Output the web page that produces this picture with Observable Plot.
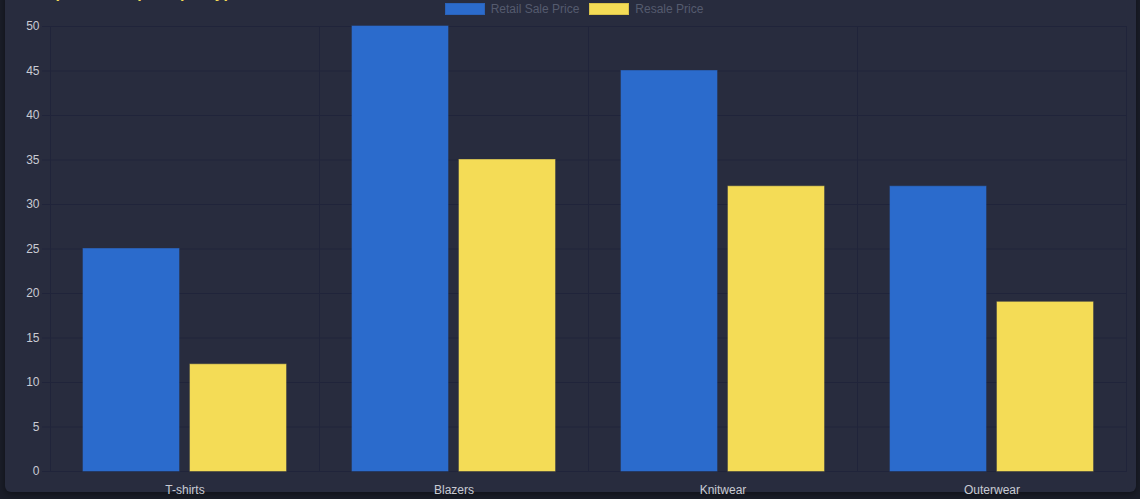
<!DOCTYPE html>
<html>
<head>
<meta charset="utf-8">
<script src="https://cdn.jsdelivr.net/npm/d3@7"></script>
<script src="https://cdn.jsdelivr.net/npm/@observablehq/plot@0.6"></script>
<style>
  html, body { margin: 0; padding: 0; width: 1140px; height: 499px; overflow: hidden; background: #1a1d28; }
  #card { position: absolute; left: 5px; top: -12px; width: 1131px; height: 504px; background: #282c3e; border-radius: 6px; box-shadow: 0 2px 6px rgba(0,0,0,0.4); }
  #title { position: absolute; left: 20px; top: -16px; line-height: 18px; font: bold 16px "Liberation Sans", Arial, sans-serif; color: #f4dc56; white-space: nowrap; }
  #legend { position: absolute; top: 3px; left: 0; width: 1148px; display: flex; justify-content: center; gap: 10px; font: 12px "Liberation Sans", Arial, sans-serif; color: #555b6e; z-index: 2; }
  .item { display: flex; align-items: center; gap: 6px; height: 12px; }
  .sw { width: 38px; height: 10px; border: 1px solid; }
  #chart { position: absolute; left: 0; top: 0; }
</style>
</head>
<body>
<div id="card"></div>
<div id="title">Comparison of price per type</div>
<div id="legend"></div>
<div id="chart"></div>
<script>
const categories = ["T-shirts", "Blazers", "Knitwear", "Outerwear"];
const seriesNames = ["Retail Sale Price", "Resale Price"];
const retailValues = [25, 50, 45, 32];
const resaleValues = [12, 35, 32, 19];
const yTicks = [0, 5, 10, 15, 20, 25, 30, 35, 40, 45, 50];
const seriesColors = ["#2b6bcc", "#f4dc56"];
const seriesBorders = ["#2a62b8", "#d9c24a"];

const data = categories.flatMap((c, i) => [
  {category: c, series: seriesNames[0], value: retailValues[i]},
  {category: c, series: seriesNames[1], value: resaleValues[i]}
]);

const legend = document.getElementById("legend");
seriesNames.forEach((s, i) => {
  const it = document.createElement("div");
  it.className = "item";
  const sw = document.createElement("span");
  sw.className = "sw";
  sw.style.background = seriesColors[i];
  sw.style.borderColor = seriesBorders[i];
  const t = document.createElement("span");
  t.textContent = s;
  it.appendChild(sw); it.appendChild(t);
  legend.appendChild(it);
});

const gridColor = "#20243a";

const chart = Plot.plot({
  width: 1140,
  height: 499,
  marginLeft: 49,
  marginRight: 14,
  marginTop: 26,
  marginBottom: 28,
  style: {background: "transparent", color: "#c9cbd3", fontFamily: "'Liberation Sans', Arial, sans-serif", fontSize: "12px"},
  fx: {domain: categories, padding: 0, label: null, axis: null},
  x: {domain: seriesNames, paddingInner: 0.1, paddingOuter: 0.3, axis: null},
  y: {domain: [0, 50], label: null, axis: null},
  color: {domain: seriesNames, range: seriesColors},
  marks: [
    Plot.gridY(yTicks, {stroke: gridColor, strokeOpacity: 1}),
    Plot.frame({anchor: "left", stroke: gridColor, strokeOpacity: 1}),
    Plot.frame({anchor: "right", stroke: gridColor, strokeOpacity: 1}),
    Plot.barY(data, {fx: "category", x: "series", y: "value", fill: "series", stroke: "series", strokeOpacity: 0.6}),
    Plot.axisY(yTicks, {tickSize: 8, tickPadding: 3, stroke: gridColor, strokeOpacity: 1, label: null, fill: "#c9cbd3"}),
    Plot.axisFx({anchor: "bottom", tickSize: 0, tickPadding: 14, label: null, fill: "#c9cbd3"})
  ]
});
document.getElementById("chart").appendChild(chart);
</script>
</body>
</html>
